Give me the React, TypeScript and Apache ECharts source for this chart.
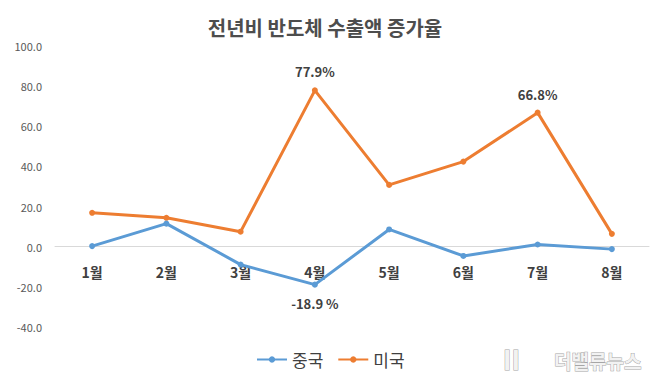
import React, { useEffect, useRef } from "react";
import * as echarts from "echarts";

const categories = ["1월", "2월", "3월", "4월", "5월", "6월", "7월", "8월"];
const chinaValues = [0.3, 11.5, -8.9, -18.9, 8.6, -4.6, 1.1, -1.2];
const usaValues = [16.9, 14.4, 7.5, 77.9, 30.8, 42.4, 66.8, 6.4];
const yTicks = { min: -40, max: 100, interval: 20 };
const chinaLabelIdx = [3];
const usaLabelIdx = [3, 6];

const FONT = "'Noto Sans CJK KR', 'Noto Sans', sans-serif";

export default function App() {
  const ref = useRef<HTMLDivElement>(null);
  useEffect(() => {
    if (!ref.current) return;
    const chart = echarts.init(ref.current, null, { renderer: "svg" });
    const chinaData = chinaValues.map((v, i) =>
      chinaLabelIdx.includes(i)
        ? {
            value: v,
            label: {
              show: true,
              position: "bottom",
              distance: 9,
              formatter: (p: any) => p.value.toFixed(1) + " %",
            },
          }
        : v
    );
    const usaData = usaValues.map((v, i) =>
      usaLabelIdx.includes(i)
        ? {
            value: v,
            label: {
              show: true,
              position: "top",
              distance: 9,
              formatter: (p: any) => p.value.toFixed(1) + "%",
            },
          }
        : v
    );
    chart.setOption({
      animation: false,
      backgroundColor: "#ffffff",
      textStyle: { fontFamily: FONT },
      title: {
        text: "전년비 반도체 수출액 증가율",
        left: "center",
        top: 12,
        textStyle: { fontSize: 20, fontWeight: "bold", color: "#4d4d4d", fontFamily: FONT },
      },
      grid: { left: 55, right: 1, top: 46, bottom: 53, containLabel: false },
      legend: {
        bottom: 7,
        left: 251,
        itemWidth: 30,
        itemHeight: 8,
        itemGap: 14,
        textStyle: { fontSize: 17, color: "#404040", fontFamily: FONT },
        data: ["중국", "미국"],
      },
      xAxis: {
        type: "category",
        data: categories,
        boundaryGap: true,
        axisLine: { onZero: true, lineStyle: { color: "#d9d9d9", width: 1 } },
        axisTick: { show: false },
        axisLabel: {
          margin: -62,
          fontSize: 14,
          fontWeight: "bold",
          color: "#404040",
          fontFamily: FONT,
        },
      },
      yAxis: {
        type: "value",
        min: yTicks.min,
        max: yTicks.max,
        interval: yTicks.interval,
        axisLine: { show: false },
        axisTick: { show: false },
        splitLine: { show: false },
        axisLabel: {
          margin: 13,
          fontSize: 11,
          color: "#595959",
          fontFamily: FONT,
          formatter: (v: number) => v.toFixed(1),
        },
      },
      series: [
        {
          name: "중국",
          type: "line",
          data: chinaData,
          symbol: "circle",
          symbolSize: 6,
          lineStyle: { width: 3, color: "#5b9bd5" },
          itemStyle: { color: "#5b9bd5" },
          label: { fontSize: 13, fontWeight: "bold", color: "#404040", fontFamily: FONT },
          z: 3,
        },
        {
          name: "미국",
          type: "line",
          data: usaData,
          symbol: "circle",
          symbolSize: 6,
          lineStyle: { width: 3, color: "#ed7d31" },
          itemStyle: { color: "#ed7d31" },
          label: { fontSize: 13, fontWeight: "bold", color: "#404040", fontFamily: FONT },
          z: 2,
        },
      ],
      graphic: [
        {
          type: "text",
          right: 8,
          bottom: 10,
          style: {
            text: "더밸류뉴스",
            fontSize: 19,
            fontWeight: "bold",
            fontFamily: FONT,
            fill: "#f2f2f2",
            stroke: "#a6a6a6",
            lineWidth: 1,
          },
        },
        {
          type: "text",
          left: 498,
          bottom: 8,
          style: {
            text: "\u2161",
            fontSize: 26,
            fontWeight: "bold",
            fontFamily: FONT,
            fill: "#f2f2f2",
            stroke: "#a6a6a6",
            lineWidth: 1,
          },
        },
      ],
    });
    return () => chart.dispose();
  }, []);
  return (
    <div
      ref={ref}
      style={{ position: "absolute", left: 0, top: 0, width: 650, height: 380 }}
    />
  );
}
